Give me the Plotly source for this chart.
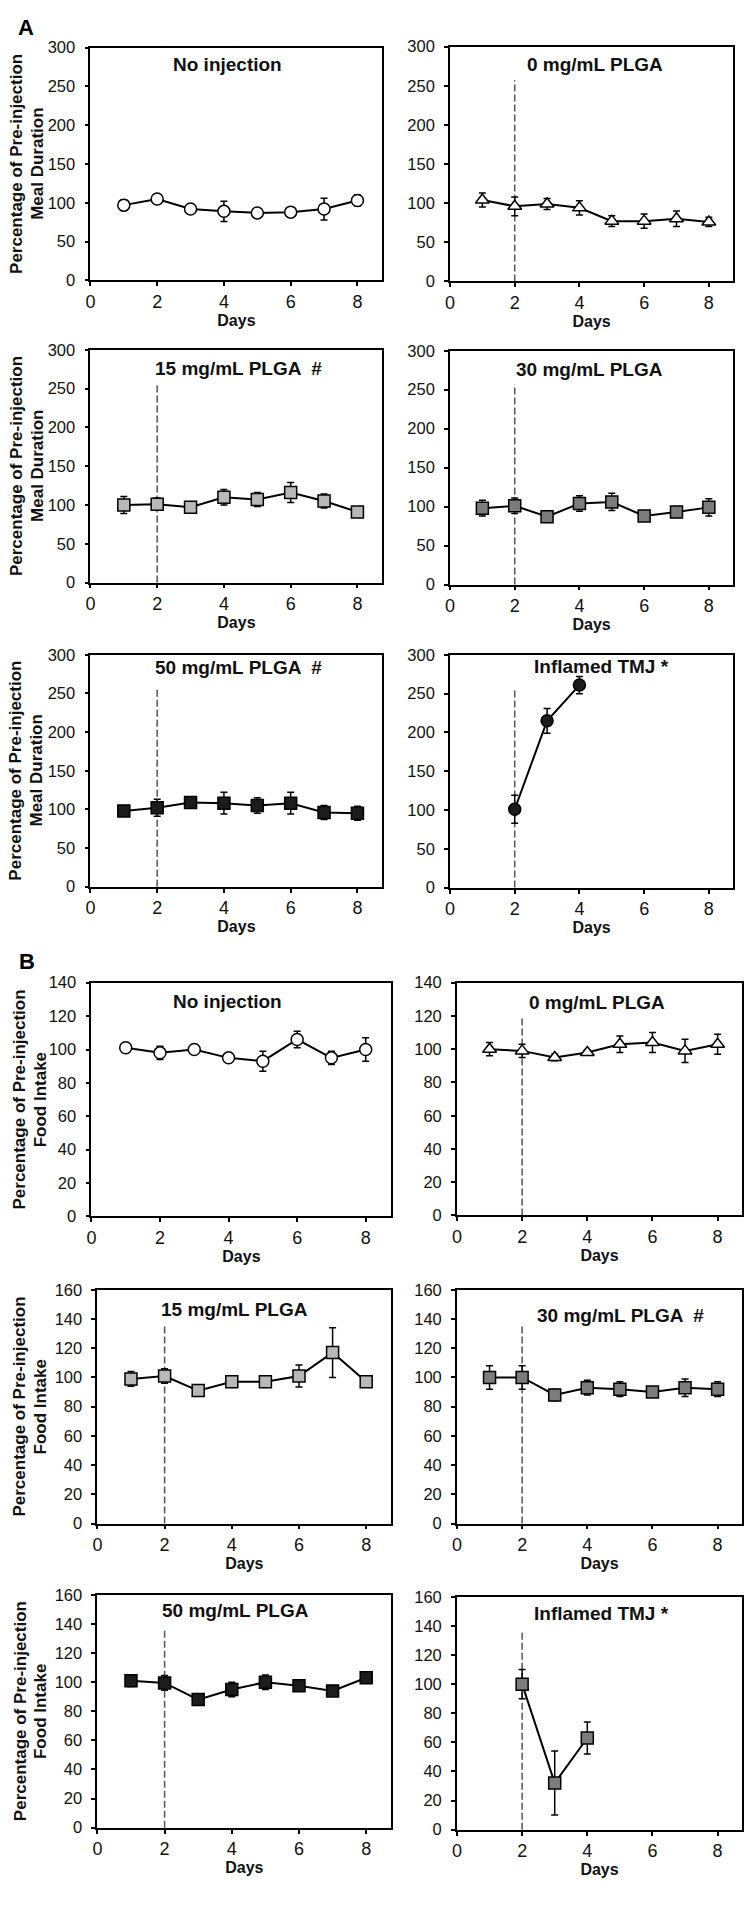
import plotly.graph_objects as go

W, H = 750, 1905

# ---------------- data ----------------
days = [1, 2, 3, 4, 5, 6, 7, 8]
tmj_days = [2, 3, 4]
injection_day = 2
x_ticks = [0, 2, 4, 6, 8]

# Panel A: percentage of pre-injection meal duration
a_none = [97, 105, 92, 89, 87, 88, 92, 103]
a_none_err = [7, 3, 3, 13, 2, 2, 14, 7]
a_0 = [104, 96, 99, 94, 77, 77, 80, 76]
a_0_err = [9, 12, 7, 9, 7, 9, 10, 6]
a_15 = [100, 101, 97, 110, 107, 116, 105, 91]
a_15_err = [11, 8, 2, 10, 9, 13, 9, 2]
a_30 = [98, 101, 87, 104, 106, 88, 93, 99]
a_30_err = [10, 10, 4, 10, 11, 4, 7, 11]
a_50 = [98, 102, 109, 108, 105, 108, 96, 95]
a_50_err = [4, 11, 3, 14, 10, 14, 9, 9]
a_tmj = [101, 215, 261]
a_tmj_err = [18, 16, 11]

# Panel B: percentage of pre-injection food intake
b_none = [101, 98, 100, 95, 93, 106, 95, 100]
b_none_err = [1, 4, 2, 1, 6, 5, 4, 7]
b_0 = [100, 99, 95, 98, 103, 104, 99, 103]
b_0_err = [4, 4, 2, 1.5, 5, 6, 7, 6]
b_15 = [99, 101, 91, 97, 97, 101, 117, 97]
b_15_err = [5, 5, 1, 1, 1, 7.5, 17, 3]
b_30 = [100, 100, 88, 93, 92, 90, 93, 92]
b_30_err = [8, 8, 4, 5, 5, 1.5, 6, 5]
b_50 = [101, 99.5, 88, 95, 100, 97.5, 94, 103]
b_50_err = [4, 5, 1.5, 5, 5, 2, 2, 1.5]
b_tmj = [100, 32, 63]
b_tmj_err = [10, 22, 11]

titles_a = ["No injection", "0 mg/mL PLGA", "15 mg/mL PLGA  #",
            "30 mg/mL PLGA", "50 mg/mL PLGA  #", "Inflamed TMJ *"]
titles_b = ["No injection", "0 mg/mL PLGA", "15 mg/mL PLGA",
            "30 mg/mL PLGA  #", "50 mg/mL PLGA", "Inflamed TMJ *"]
ylabel_a = ["Percentage of Pre-injection", "Meal Duration"]
ylabel_b = ["Percentage of Pre-injection", "Food Intake"]
xlabel = "Days"

# ---------------- styles / layout ----------------
FONT = "Liberation Sans, Arial, sans-serif"
WHITE, LIGHT, MID, DARK = "#ffffff", "#b8b8b8", "#7c7c7c", "#1c1c1c"

# (x, y, err, title, ymax, dtick, symbol, fill, marker size,
#  dashed line?, plot px box [x0, x1, y0, y1], title center px)
panels = [
    (days, a_none, a_none_err, titles_a[0], 300, 50, "circle", WHITE, 12, False, [86, 380, 39, 274], (224, 56)),
    (days, a_0, a_0_err, titles_a[1], 300, 50, "triangle-up", WHITE, 12, True, [448, 733, 38, 275], (594, 56)),
    (days, a_15, a_15_err, titles_a[2], 300, 50, "square", LIGHT, 12, True, [86, 380, 344, 579], (235, 363)),
    (days, a_30, a_30_err, titles_a[3], 300, 50, "square", MID, 12, True, [448, 733, 345, 581], (588, 364)),
    (days, a_50, a_50_err, titles_a[4], 300, 50, "square", DARK, 12, True, [86, 380, 652, 886], (235, 665)),
    (tmj_days, a_tmj, a_tmj_err, titles_a[5], 300, 50, "circle", DARK, 12, True, [448, 733, 652, 887], (600, 664)),
    (days, b_none, b_none_err, titles_b[0], 140, 20, "circle", WHITE, 12, False, [87, 389, 983, 1219], (224, 1002)),
    (days, b_0, b_0_err, titles_b[1], 140, 20, "triangle-up", WHITE, 12, True, [455, 742, 983, 1218], (596, 1003)),
    (days, b_15, b_15_err, titles_b[2], 160, 20, "square", LIGHT, 12, True, [93, 389, 1293, 1529], (231, 1313)),
    (days, b_30, b_30_err, titles_b[3], 160, 20, "square", MID, 12, True, [455, 742, 1293, 1529], (620, 1319)),
    (days, b_50, b_50_err, titles_b[4], 160, 20, "square", DARK, 12, True, [93, 389, 1601, 1836], (232, 1617)),
    (tmj_days, b_tmj, b_tmj_err, titles_b[5], 160, 20, "square", MID, 12, True, [455, 742, 1603, 1838], (601, 1620)),
]

X_MAX = 8.75
DASH_TOP = 0.857  # fraction of the y axis height


def px_x(v):
    return v / W


def px_y(v):
    return 1 - v / H


fig = go.Figure()
layout = dict(
    width=W, height=H,
    margin=dict(l=0, r=0, t=0, b=0),
    paper_bgcolor="white", plot_bgcolor="white",
    showlegend=False,
    font=dict(family=FONT, color="#000000"),
)
annotations = []
shapes = []

for i, (xs, ys, es, title, ymax, dt, sym, fill, msize, dashed, box, tpos) in enumerate(panels):
    n = i + 1
    xa = "x" if n == 1 else f"x{n}"
    ya = "y" if n == 1 else f"y{n}"
    x0, x1, y0, y1 = box
    layout["xaxis" if n == 1 else f"xaxis{n}"] = dict(
        domain=[px_x(x0), px_x(x1)], anchor=ya,
        range=[0, X_MAX], tickvals=x_ticks,
        showline=True, mirror=True, linecolor="black", linewidth=1.8,
        ticks="outside", ticklen=4, tickwidth=1.5, tickcolor="black",
        showgrid=False, zeroline=False,
        tickfont=dict(family=FONT, size=18, color="#111"),
        ticklabelstandoff=0,
        title=dict(text=f"<b>{xlabel}</b>", font=dict(family=FONT, size=16, color="#111"), standoff=0),
    )
    layout["yaxis" if n == 1 else f"yaxis{n}"] = dict(
        domain=[px_y(y1), px_y(y0)], anchor=xa,
        range=[0, ymax], dtick=dt, tick0=0,
        showline=True, mirror=True, linecolor="black", linewidth=1.8,
        ticks="outside", ticklen=4, tickwidth=1.5, tickcolor="black",
        showgrid=False, zeroline=False,
        tickfont=dict(family=FONT, size=16.5, color="#111"),
        ticklabelstandoff=6,
    )
    if dashed:
        shapes.append(dict(
            type="line", xref=xa, yref=f"{ya} domain",
            x0=injection_day, x1=injection_day, y0=0, y1=DASH_TOP,
            line=dict(color="#555555", width=1.5, dash="7px,3px"), layer="below",
        ))
    fig.add_trace(go.Scatter(
        x=xs, y=ys, xaxis=xa, yaxis=ya, mode="lines+markers",
        line=dict(color="black", width=2),
        marker=dict(symbol=sym, size=msize, color=fill,
                    line=dict(color="black", width=1.5)),
        error_y=dict(type="data", array=es, visible=True,
                     color="black", thickness=1.5, width=3.5),
        cliponaxis=False,
    ))
    annotations.append(dict(
        text=f"<b>{title}</b>", x=px_x(tpos[0]), y=px_y(tpos[1]),
        xref="paper", yref="paper", xanchor="center", yanchor="middle",
        showarrow=False, font=dict(family=FONT, size=19, color="#111"),
    ))
    if x0 < 200:
        ylab = ylabel_a if i < 6 else ylabel_b
        line_x = (11, 32) if i < 6 else (15, 36)
        for txt, xc in zip(ylab, line_x):
            annotations.append(dict(
                text=f"<b>{txt}</b>", x=px_x(xc), y=px_y((y0 + y1) / 2),
                xref="paper", yref="paper", xanchor="center", yanchor="middle",
                textangle=-90, showarrow=False,
                font=dict(family=FONT, size=17, color="#111"),
            ))

annotations.append(dict(text="<b>A</b>", x=px_x(21), y=px_y(19), xref="paper", yref="paper",
                        xanchor="center", yanchor="middle",
                        showarrow=False, font=dict(family=FONT, size=22, color="#000")))
annotations.append(dict(text="<b>B</b>", x=px_x(22), y=px_y(962), xref="paper", yref="paper",
                        xanchor="center", yanchor="middle",
                        showarrow=False, font=dict(family=FONT, size=22, color="#000")))

layout["annotations"] = annotations
layout["shapes"] = shapes
fig.update_layout(**layout)
fig.write_html("out.html", config={"displayModeBar": False},
               post_script="document.body.style.margin='0px';")
